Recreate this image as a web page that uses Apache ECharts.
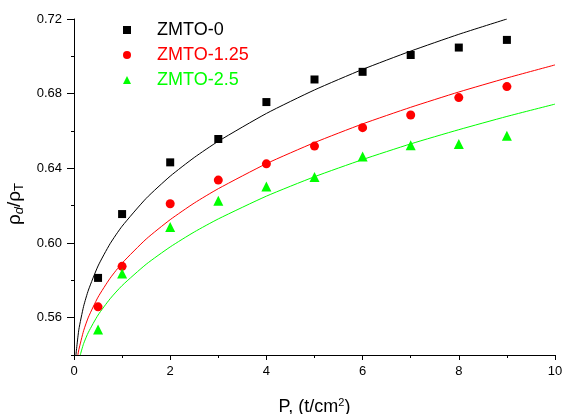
<!DOCTYPE html>
<html>
<head>
<meta charset="utf-8">
<script src="https://cdn.jsdelivr.net/npm/echarts@6/dist/echarts.min.js"></script>
<style>html,body{margin:0;padding:0;background:#fff}#c{width:563px;height:414px}</style>
</head>
<body>
<div id="c"></div>
<script>
// ---- data ----
var seriesNames = ['ZMTO-0', 'ZMTO-1.25', 'ZMTO-2.5'];
var pressure = [0.5, 1, 2, 3, 4, 5, 6, 7, 8, 9];
var density0 = [0.5813, 0.6155, 0.6432, 0.6557, 0.6755, 0.6876, 0.6917, 0.7007, 0.7047, 0.7088];
var density125 = [0.5658, 0.5875, 0.6210, 0.6337, 0.6424, 0.6519, 0.6618, 0.6686, 0.6779, 0.6838];
var density25 = [0.5536, 0.5836, 0.6086, 0.6226, 0.6303, 0.6353, 0.6463, 0.6524, 0.6531, 0.6574];

// fitted curves
var fitX0 = [0.04, 0.1, 0.2, 0.3, 0.5, 0.75, 1, 1.5, 2, 2.5, 3, 4, 5, 6, 7, 8, 9];
var fitY0 = [0.540, 0.5535, 0.5661, 0.5748, 0.5877, 0.5996, 0.6090, 0.6239, 0.6358, 0.6458, 0.6545, 0.6694, 0.6820, 0.6930, 0.7028, 0.7118, 0.7200];
var fitX125 = [0.08, 0.1, 0.2, 0.3, 0.5, 0.75, 1, 1.5, 2, 2.5, 3, 4, 5, 6, 7, 8, 9, 10];
var fitY125 = [0.540, 0.5428, 0.5530, 0.5603, 0.5710, 0.5811, 0.5892, 0.6021, 0.6125, 0.6214, 0.6291, 0.6425, 0.6538, 0.6638, 0.6727, 0.6809, 0.6884, 0.6954];
var fitX25 = [0.13, 0.2, 0.3, 0.5, 0.75, 1, 1.5, 2, 2.5, 3, 4, 5, 6, 7, 8, 9, 10];
var fitY25 = [0.540, 0.5461, 0.5522, 0.5614, 0.5701, 0.5772, 0.5886, 0.5979, 0.6059, 0.6129, 0.6251, 0.6355, 0.6447, 0.6531, 0.6607, 0.6678, 0.6744];

var yMajorTicks = [0.56, 0.60, 0.64, 0.68, 0.72];
var yMinorTicks = [0.54, 0.58, 0.62, 0.66, 0.70];

function pairs(xs, ys) { return xs.map(function (x, i) { return [x, ys[i]]; }); }

var FONT = 'Liberation Sans, Arial, sans-serif';
var colors = ['#000000', '#ff0000', '#00ff00'];
var symbols = ['rect', 'circle', 'triangle'];
var symSizes = [8, 9, 10];
var scatterData = [density0, density125, density25];
var fitData = [pairs(fitX0, fitY0), pairs(fitX125, fitY125), pairs(fitX25, fitY25)];

var series = [];
for (var i = 0; i < 3; i++) {
  series.push({
    name: seriesNames[i] + ' fit', type: 'line', data: fitData[i], showSymbol: false,
    smooth: 0.2, lineStyle: { color: colors[i], width: 1 }, silent: true, z: 2
  });
}
for (var j = 0; j < 3; j++) {
  series.push({
    name: seriesNames[j], type: 'scatter', data: pairs(pressure, scatterData[j]),
    symbol: symbols[j], symbolSize: symSizes[j], itemStyle: { color: colors[j], opacity: 1 }, z: 3
  });
}

var chart = echarts.init(document.getElementById('c'), null, { renderer: 'canvas' });
chart.setOption({
  animation: false,
  backgroundColor: '#ffffff',
  textStyle: { fontFamily: FONT },
  grid: { left: 74, right: 8, top: 19, bottom: 59, containLabel: false, outerBoundsMode: 'none' },
  legend: {
    orient: 'vertical', left: 123, top: 21, padding: 0,
    itemWidth: 8, itemHeight: 8, itemGap: 7,
    textStyle: { fontSize: 18, fontFamily: FONT, padding: [0, 0, 0, 21] },
    data: seriesNames.map(function (n, k) {
      return { name: n, itemStyle: { opacity: 1 }, textStyle: { color: colors[k] } };
    })
  },
  xAxis: {
    type: 'value', min: 0, max: 10, interval: 2,
    name: '{a|P, (t/cm}{s|2}{a|)}', nameLocation: 'middle', nameGap: 41,
    nameTextStyle: {
      color: '#000', fontFamily: FONT,
      rich: {
        a: { fontSize: 18, fontFamily: FONT, color: '#000', lineHeight: 22 },
        s: { fontSize: 11, fontFamily: FONT, color: '#000', lineHeight: 22, padding: [0, 0, 9, 0] }
      }
    },
    axisLine: { show: true, lineStyle: { color: '#000', width: 1 } },
    axisTick: { show: true, inside: false, length: 5, lineStyle: { color: '#000' } },
    minorTick: { show: true, splitNumber: 2, length: 3, lineStyle: { color: '#000' } },
    axisLabel: { fontSize: 13, color: '#000', margin: 10, fontFamily: FONT },
    splitLine: { show: false }
  },
  yAxis: [{
    type: 'value', min: 0.54, max: 0.72, position: 'left',
    name: '{a|ρ}{i|d}{a|/ρ}{s|T}', nameLocation: 'middle', nameGap: 34, nameRotate: 90,
    nameTextStyle: {
      color: '#000', fontFamily: FONT, padding: [0, 34, 0, 0],
      rich: {
        a: { fontSize: 19, fontFamily: FONT, color: '#000', lineHeight: 24 },
        i: { fontSize: 13, fontStyle: 'italic', fontFamily: FONT, color: '#000', lineHeight: 24, padding: [9, 0, 0, 0] },
        s: { fontSize: 13, fontFamily: FONT, color: '#000', lineHeight: 24, padding: [9, 0, 0, 0] }
      }
    },
    axisLine: { show: true, onZero: false, lineStyle: { color: '#000', width: 1 } },
    axisTick: { show: true, inside: false, length: 7, customValues: yMajorTicks, lineStyle: { color: '#000' } },
    axisLabel: { fontSize: 13, color: '#000', margin: 12, fontFamily: FONT, customValues: yMajorTicks,
      formatter: function (v) { return v.toFixed(2); } },
    splitLine: { show: false }
  }, {
    type: 'value', min: 0.54, max: 0.72, position: 'left', offset: 0,
    axisLine: { show: false },
    axisTick: { show: true, inside: false, length: 3, customValues: yMinorTicks, lineStyle: { color: '#000' } },
    axisLabel: { show: false, customValues: yMinorTicks },
    splitLine: { show: false }
  }],
  series: series
});
</script>
</body>
</html>
